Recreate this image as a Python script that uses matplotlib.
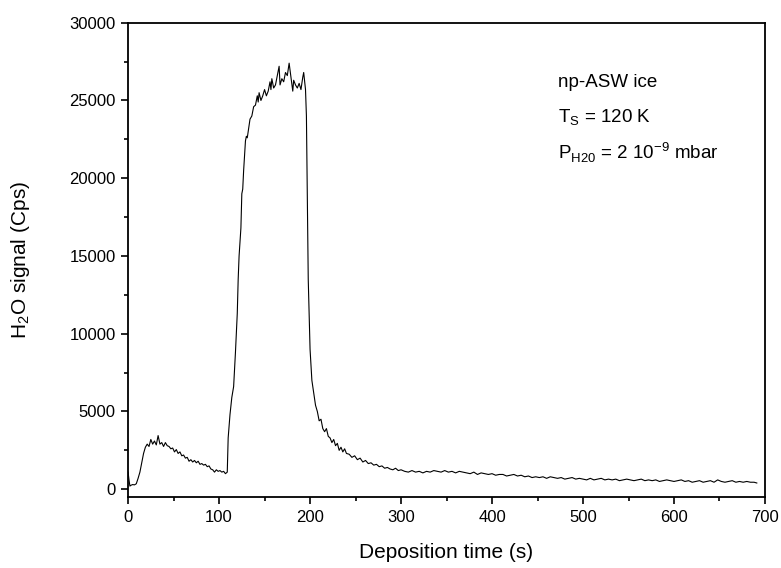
import matplotlib
matplotlib.use("Agg")
import matplotlib.pyplot as plt
from matplotlib.ticker import MultipleLocator

plt.rcParams['font.family'] = ['Liberation Sans', 'DejaVu Sans']
plt.rcParams['mathtext.fontset'] = 'custom'
plt.rcParams['mathtext.rm'] = 'Liberation Sans'

# deposition time (s)
time_s = [0, 1, 2, 3, 5, 7, 9, 11, 13, 15, 17, 19, 21, 23, 25, 27, 29, 31, 33, 35,
          37, 39, 41, 43, 45, 47, 49, 51, 53, 55, 57, 59, 61, 63, 65, 67, 69, 71, 73, 75,
          77, 79, 81, 83, 85, 87, 89, 91, 93, 95, 97, 99, 101, 103, 105, 107, 109,
          110, 112, 114, 116, 118, 120, 121, 122, 124, 125, 126, 127, 128, 129, 130, 131, 132,
          134, 136, 138, 140, 142, 143, 144, 146, 148, 150, 152, 154, 156, 157, 158, 160,
          162, 164, 166, 167, 169, 171, 173, 175, 177, 179, 181, 182, 184, 186, 188, 190,
          192, 193, 195, 196, 197, 198, 200, 202, 204, 206, 208, 210, 212, 214, 216, 218,
          220, 222, 224, 226, 228, 230, 232, 234, 236, 238, 240, 243, 246, 249, 252, 255,
          258, 261, 264, 267, 270, 273, 276, 279, 282, 285, 288, 291, 294, 297, 300, 304,
          308, 312, 316, 320, 324, 328, 332, 336, 340, 344, 348, 352, 356, 360, 364, 368,
          372, 376, 380, 384, 388, 392, 396, 400, 404, 408, 412, 416, 420, 424, 428, 432,
          436, 440, 444, 448, 452, 456, 460, 464, 468, 472, 476, 480, 484, 488, 492, 496,
          500, 504, 508, 512, 516, 520, 524, 528, 532, 536, 540, 544, 548, 552, 556, 560,
          564, 568, 572, 576, 580, 584, 588, 592, 596, 600, 604, 608, 612, 616, 620, 624,
          628, 632, 636, 640, 644, 648, 652, 656, 660, 664, 668, 672, 676, 680, 684, 688, 691]

# H2O signal (Cps)
signal = [1100, 600, 200, 250, 300, 280, 350, 700, 1100, 1700, 2300, 2700, 2900, 2750, 3200, 2900, 3100, 2850, 3450, 2900,
          3000, 2750, 3000, 2800, 2750, 2600, 2650, 2400, 2550, 2300, 2400, 2150, 2200, 2000, 2050, 1800, 1900, 1750, 1850, 1700,
          1800, 1600, 1650, 1550, 1600, 1450, 1500, 1300, 1250, 1100, 1250, 1150, 1200, 1100, 1150, 1000, 1100,
          3300, 4800, 5900, 6600, 8800, 11300, 13500, 15000, 16800, 19000, 19300, 20500, 21500, 22400, 22700, 22600, 23000,
          23800, 24000, 24600, 24700, 25300, 24900, 25500, 25000, 25300, 25700, 25300, 25600, 26200, 25700, 26400, 25800,
          26000, 26600, 27200, 26000, 26400, 26200, 26800, 26600, 27400, 26500, 25600, 26300, 26000, 25800, 26100, 25700,
          26500, 26800, 25700, 24000, 19000, 13500, 9000, 7000, 6200, 5400, 5000, 4400, 4500, 3900, 3700, 3900,
          3400, 3300, 3000, 3200, 2800, 2950, 2500, 2700, 2400, 2600, 2300, 2250, 2050, 2150, 1900, 2000,
          1750, 1850, 1650, 1700, 1550, 1600, 1450, 1500, 1350, 1400, 1300, 1250, 1350, 1200, 1250, 1150,
          1100, 1200, 1100, 1150, 1050, 1150, 1100, 1200, 1150, 1100, 1200, 1100, 1150, 1050, 1150, 1100,
          1050, 1000, 1100, 950, 1050, 1000, 950, 1000, 900, 950, 950, 850, 900, 950, 850, 900,
          800, 850, 750, 800, 750, 800, 700, 800, 750, 700, 750, 650, 700, 750, 650, 700,
          650, 600, 700, 600, 650, 700, 600, 650, 600, 650, 550, 600, 650, 600, 550, 600,
          650, 550, 600, 550, 600, 500, 550, 600, 550, 500, 550, 600, 500, 550, 450, 500,
          550, 450, 500, 550, 450, 600, 500, 450, 500, 550, 450, 500, 450, 500, 450, 450, 400]

fig = plt.figure(figsize=(7.81, 5.68), dpi=100)
ax = fig.add_axes([0.164, 0.125, 0.8155, 0.835])

ax.plot(time_s, signal, color='black', lw=0.8)

ax.set_xlim(0, 700)
ax.set_ylim(-500, 30000)
ax.xaxis.set_major_locator(MultipleLocator(100))
ax.xaxis.set_minor_locator(MultipleLocator(50))
ax.yaxis.set_major_locator(MultipleLocator(5000))
ax.yaxis.set_minor_locator(MultipleLocator(2500))
ax.tick_params(which='major', direction='out', length=5, width=1.2, labelsize=12, pad=4)
ax.tick_params(which='minor', direction='out', length=3, width=1.2)
ax.tick_params(top=False, right=False)
for sp in ax.spines.values():
    sp.set_linewidth(1.3)

ax.set_xlabel('Deposition time (s)', fontsize=15, labelpad=13)
ax.set_ylabel(r'H$_\mathregular{2}$O signal (Cps)', fontsize=15, labelpad=27)

# annotation block in the upper right
ax.text(0.675, 0.864, 'np-ASW ice', transform=ax.transAxes, fontsize=13.5)
ax.text(0.675, 0.789, r'T$_\mathregular{S}$ = 120 K', transform=ax.transAxes, fontsize=13.5)
ax.text(0.675, 0.711, r'P$_\mathregular{H20}$ = 2 10$^\mathregular{-9}$ mbar',
        transform=ax.transAxes, fontsize=13.5)

fig.savefig('out.png', dpi=100)
